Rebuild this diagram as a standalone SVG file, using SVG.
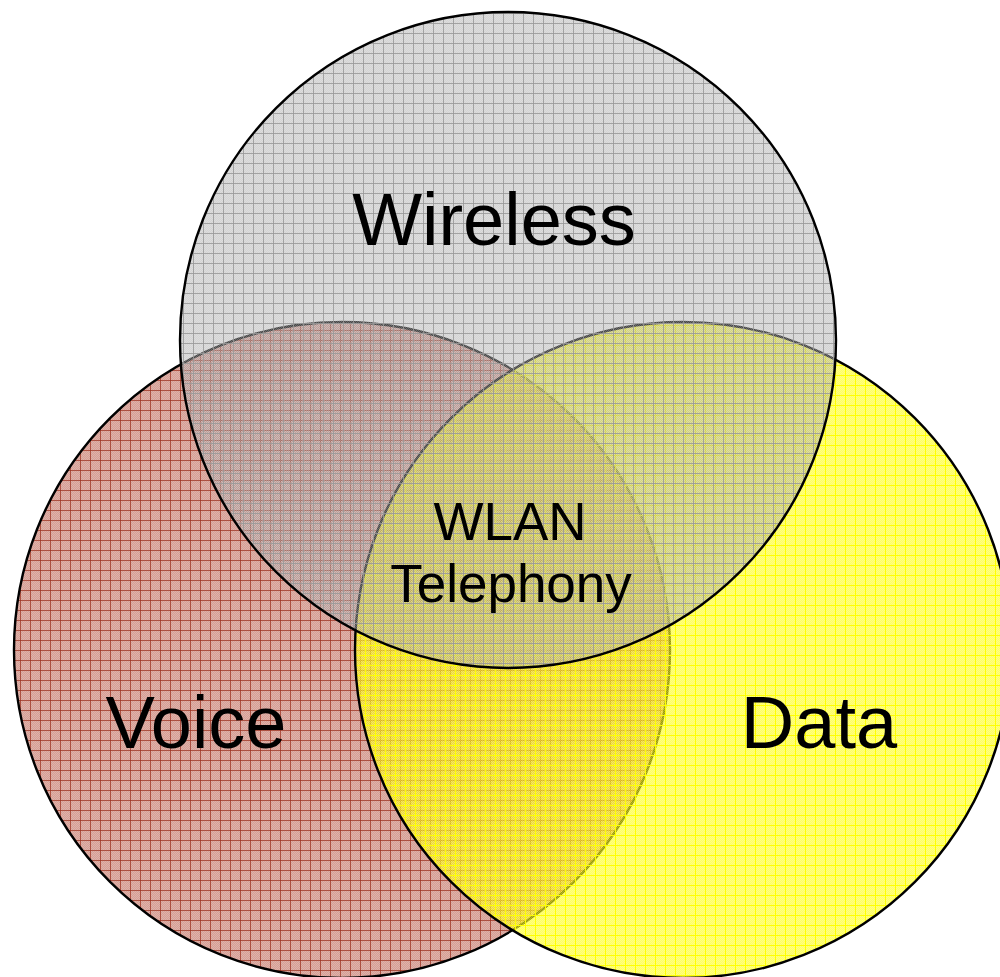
<svg xmlns="http://www.w3.org/2000/svg" width="1000" height="977" viewBox="0 0 1000 977">
  <defs>
    <pattern id="chk" width="2" height="2" patternUnits="userSpaceOnUse">
      <rect x="0" y="0" width="1" height="1" fill="#ffffff" fill-opacity="0.2"/>
      <rect x="1" y="1" width="1" height="1" fill="#ffffff" fill-opacity="0.2"/>
    </pattern>
    <pattern id="pVoice" width="10" height="10" patternUnits="userSpaceOnUse">
      <rect width="10" height="10" fill="#b4503e" fill-opacity="0.55"/>
      <rect width="10" height="10" fill="url(#chk)"/>
      <rect x="0" y="0" width="10" height="1" fill="#9a2e1c" fill-opacity="0.72"/>
      <rect x="0" y="0" width="1" height="10" fill="#9a2e1c" fill-opacity="0.72"/>
    </pattern>
    <pattern id="pData" width="10" height="10" patternUnits="userSpaceOnUse">
      <rect width="10" height="10" fill="#ffff00" fill-opacity="0.62"/>
      <rect width="10" height="10" fill="url(#chk)"/>
      <rect x="0" y="5" width="10" height="1" fill="#ffff00"/>
      <rect x="5" y="0" width="1" height="10" fill="#ffff00"/>
    </pattern>
    <pattern id="pWireless" width="10" height="10" patternUnits="userSpaceOnUse">
      <rect width="10" height="10" fill="#a0a0a0" fill-opacity="0.45"/>
      <rect width="10" height="10" fill="url(#chk)"/>
      <rect x="0" y="3" width="10" height="1" fill="#999999" fill-opacity="0.85"/>
      <rect x="3" y="0" width="1" height="10" fill="#999999" fill-opacity="0.85"/>
    </pattern>
  </defs>
  <style>
    .circ { stroke: #000000; stroke-width: 2.4; }
    .big { font-family: "Liberation Sans", Arial, sans-serif; font-size: 74px; fill: #000000; text-anchor: middle; }
    .small { font-family: "Liberation Sans", Arial, sans-serif; font-size: 53px; fill: #000000; text-anchor: middle; }
  </style>
  <rect width="1000" height="977" fill="#ffffff"/>
  <g id="voice">
    <circle class="circ" cx="342" cy="650" r="328" fill="url(#pVoice)"/>
  </g>
  <g id="data">
    <circle class="circ" cx="683" cy="650" r="328" fill="url(#pData)"/>
  </g>
  <g id="wireless">
    <circle class="circ" cx="508" cy="340" r="328" fill="url(#pWireless)"/>
  </g>
  <g id="connectors"></g>
  <g id="labels">
    <text class="big" x="494" y="245">Wireless</text>
    <text class="big" x="196" y="748">Voice</text>
    <text class="big" x="819" y="748">Data</text>
    <text class="small" x="510" y="540">WLAN</text>
    <text class="small" x="511" y="602">Telephony</text>
  </g>
</svg>
